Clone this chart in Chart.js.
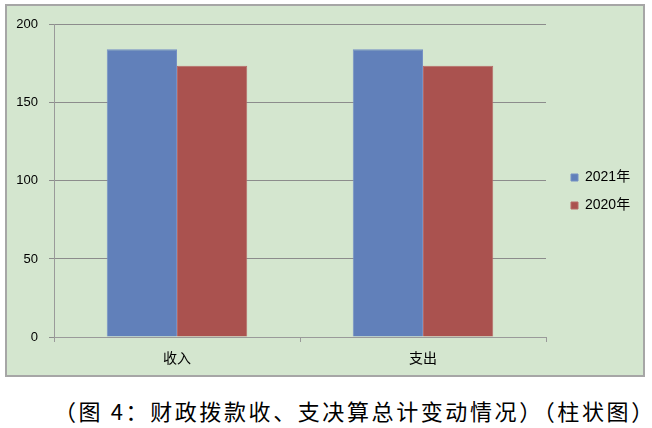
<!DOCTYPE html>
<html><head><meta charset="utf-8">
<script src="https://cdn.jsdelivr.net/npm/chart.js@4"></script>
<style>
html,body{margin:0;padding:0;background:#fff;width:652px;height:428px;overflow:hidden}
#box{position:absolute;left:5px;top:4px;width:636px;height:369px;border:2px solid #a6a6a6;background:#d4e6cf}
#c{display:block}
#cap{position:absolute;left:54px;top:396px;font-family:"Noto Sans CJK SC";font-size:22px;letter-spacing:2.6px;color:#000;white-space:nowrap;line-height:28px}
</style></head><body>
<div id="box"><canvas id="c" width="636" height="369"></canvas></div>
<div id="cap">（图 4：财政拨款收、支决算总计变动情况）（柱状图）</div>
<script>
const categories = ['收入', '支出'];
const seriesNames = ['2021年', '2020年'];
const values2021 = [184.3, 184.3];
const values2020 = [173.8, 173.8];
const yTickValues = [0, 50, 100, 150, 200];

const FONT = '"Liberation Sans", "Noto Sans CJK SC", sans-serif';
Chart.defaults.font.family = FONT;
Chart.defaults.color = '#000';

const legendShift = {
  id: 'legendShift',
  afterLayout(chart) { if (chart.legend) chart.legend.bottom -= 14; }
};

const chart = new Chart(document.getElementById('c'), {
  type: 'bar',
  data: {
    labels: categories,
    datasets: [
      { label: seriesNames[0], data: values2021, backgroundColor: '#6180ba', borderColor: '#7590c4', borderWidth: 1,
        categoryPercentage: 0.571, barPercentage: 1.0 },
      { label: seriesNames[1], data: values2020, backgroundColor: '#aa524f', borderColor: '#b76a67', borderWidth: 1,
        categoryPercentage: 0.571, barPercentage: 1.0 }
    ]
  },
  options: {
    responsive: false,
    animation: false,
    layout: { padding: { top: 16, left: 0, right: 0, bottom: 0 } },
    plugins: {
      legend: {
        position: 'right',
        labels: { boxWidth: 7, boxHeight: 7, padding: 14, color: '#000', font: { size: 14, family: FONT } }
      },
      tooltip: { enabled: false }
    },
    scales: {
      x: {
        grid: { display: true, drawOnChartArea: false, offset: true, tickLength: 5, color: '#9a9a9a' },
        border: { color: '#9a9a9a', width: 1 },
        ticks: { padding: 7, color: '#000', font: { size: 14, family: '"Noto Sans CJK SC", sans-serif' } },
        afterFit(s) { s.height = 38; }
      },
      y: {
        min: 0, max: 200,
        afterBuildTicks(s) { s.ticks = yTickValues.map(v => ({ value: v })); },
        grid: { color: '#8c8c8c', tickLength: 5 },
        border: { color: '#9a9a9a', width: 1 },
        ticks: { padding: 11, color: '#000', font: { size: 13, family: FONT } },
        afterFit(s) { s.width = 47; }
      },
      gap: {
        type: 'linear', position: 'right', display: true,
        grid: { display: false }, ticks: { display: false }, border: { display: false },
        afterFit(s) { s.width = 11; }
      }
    }
  },
  plugins: [legendShift]
});
// fit plot right edge
const diff = chart.chartArea.right - 539;
chart.options.layout.padding.right = Math.max(0, diff);
chart.update();
</script>
</body></html>
